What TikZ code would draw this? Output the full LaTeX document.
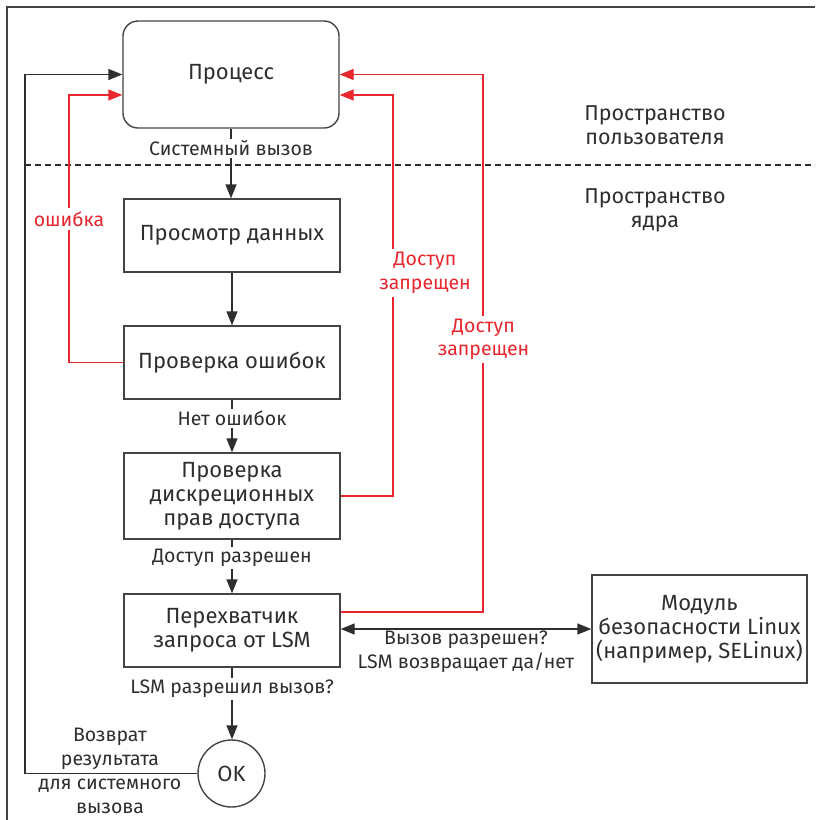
\documentclass[tikz,border=0pt]{standalone}
\usepackage{fontspec}
\setmainfont{Fira Sans}
\usetikzlibrary{arrows.meta,calc}
\definecolor{ink}{HTML}{2E2E2E}
\definecolor{redline}{HTML}{E8262D}
\definecolor{boxline}{HTML}{444444}
\begin{document}
\begin{tikzpicture}[x=1pt,y=-1pt,
  box/.style={draw=boxline, line width=1.4pt, minimum width=216pt, align=center,
    font=\fontsize{22}{24}\selectfont, text=ink, inner sep=0pt},
  lbl/.style={font=\fontsize{19.5}{24}\selectfont, text=ink, fill=white, inner sep=2pt, align=center},
  redlbl/.style={font=\fontsize{19.5}{23.5}\selectfont, text=redline, fill=white, inner sep=3pt, align=center},
  arr/.style={draw=ink, line width=1.4pt, -{Triangle[length=14pt,width=11pt]}},
  redarr/.style={draw=redline, line width=1.4pt, -{Triangle[length=14pt,width=11pt]}},
  dblarr/.style={draw=ink, line width=1.4pt, {Triangle[length=14pt,width=11pt]}-{Triangle[length=14pt,width=11pt]}}
]
\useasboundingbox (0,0) rectangle (815,820);
\draw[boxline, line width=1.5pt] (815,7) -- (7,7) -- (7,820);

% nodes
\node[box, rounded corners=15pt, minimum height=107pt] (proc) at (231,74.5) {Процесс};
\node[box, minimum height=73pt] (view) at (232,235.5) {Просмотр данных};
\node[box, minimum height=73pt] (err) at (232,362.5) {Проверка ошибок};
\node[box, minimum height=86pt] (dac) at (232,496) {Проверка\\дискреционных\\прав доступа};
\node[box, minimum height=73pt] (lsm) at (232,630.5) {Перехватчик\\запроса от LSM};
\node[box, minimum width=215pt, minimum height=108pt] (mod) at (699.5,629) {Модуль\\безопасности Linux\\(например, SELinux)};
\node[draw=boxline, line width=1.4pt, circle, minimum size=67pt, inner sep=0pt, text=ink,
  font=\fontsize{22}{24}\selectfont] (ok) at (231.5,773.5) {OK};

% side texts
\node[font=\fontsize{21.5}{24}\selectfont, text=ink, align=center] (us) at (655,125) {Пространство\\пользователя};
\node[font=\fontsize{21.5}{24}\selectfont, text=ink, align=center] (ks) at (655,210) {Пространство\\ядра};
\node[font=\fontsize{19.5}{24}\selectfont, text=ink, align=center] (ret) at (110,771) {Возврат\\результата\\для системного\\вызова};

% helper coordinates
\coordinate (xret) at (25,0);
\coordinate (xerr) at (69,0);
\coordinate (xdac) at (393,0);
\coordinate (xlsm) at (483,0);
\coordinate (pw95) at ($(proc.west)+(0,20.5)$);
\coordinate (pe95) at ($(proc.east)+(0,20.5)$);
\coordinate (lsmout) at ($(lsm.east)+(0,-18.5)$);

% dashed separator
\draw[ink, line width=1.3pt, dash pattern=on 6pt off 4pt] (25,165) -- (815,165);

% main flow
\draw[arr] (proc.south) -- node[lbl, pos=0.28] {Системный вызов} (proc.south |- view.north);
\draw[arr] (view) -- (err);
\draw[arr] (err) -- node[lbl, pos=0.35] {Нет ошибок} (dac);
\draw[arr] (dac) -- node[lbl, pos=0.345] {Доступ разрешен} (lsm);
\draw[arr] (lsm.south) -- node[lbl, pos=0.3] {LSM разрешил вызов?} (lsm.south |- ok.north);

% return path
\draw[arr] (ok.west) -| (xret |- proc.west) -- (proc.west);

% red denial paths
\draw[redarr] (err.west) -| (xerr |- pw95) -- (pw95);
\draw[redarr] (dac.east) -| (xdac |- pe95) -- (pe95);
\draw[redarr] (lsmout) -| (xlsm |- proc.east) -- (proc.east);
\node[redlbl, inner sep=4pt] (l1) at (69,219) {ошибка};
\node[redlbl] (l2) at (425,273) {Доступ\\запрещен};
\node[redlbl] (l3) at (483.5,339.5) {Доступ\\запрещен};

% LSM <-> module
\draw[dblarr] (mod.west -| lsm.east) -- node[below, font=\fontsize{19.5}{24}\selectfont, text=ink, align=center, yshift=2pt] {Вызов разрешен?\\LSM возвращает да/нет} (mod.west);
\end{tikzpicture}
\end{document}
